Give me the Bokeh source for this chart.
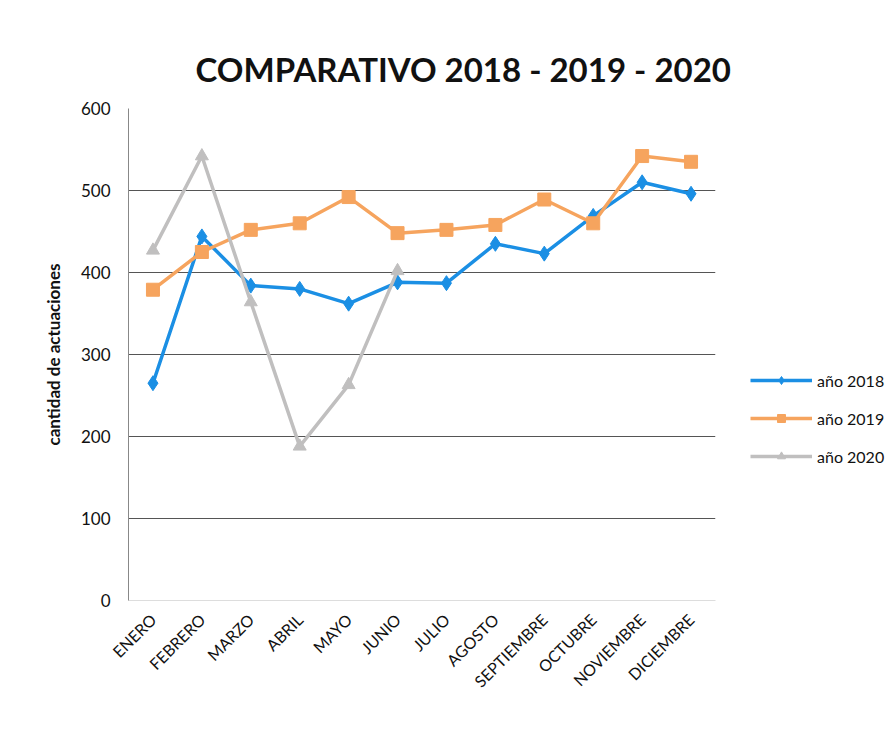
from bokeh.plotting import figure
from bokeh.models import Range1d, Legend, LegendItem, FixedTicker
from bokeh.embed import file_html
from bokeh.resources import INLINE
import math

meses = ["ENERO", "FEBRERO", "MARZO", "ABRIL", "MAYO", "JUNIO", "JULIO",
         "AGOSTO", "SEPTIEMBRE", "OCTUBRE", "NOVIEMBRE", "DICIEMBRE"]
anio_2018 = [265, 444, 384, 380, 362, 388, 387, 435, 423, 469, 510, 496]
anio_2019 = [379, 425, 452, 460, 492, 448, 452, 458, 489, 460, 542, 535]
meses_2020 = ["ENERO", "FEBRERO", "MARZO", "ABRIL", "MAYO", "JUNIO"]
anio_2020 = [427, 542, 364, 188, 263, 402]
y_ticks = [0, 100, 200, 300, 400, 500, 600]

FONT = "Lato"
BLUE = "#1b8fe4"
ORANGE = "#f6a45e"
GRAY = "#c0bfbf"

p = figure(x_range=meses, y_range=Range1d(0, 600),
           frame_width=587, frame_height=492,
           min_border_left=128, min_border_right=171,
           min_border_top=108, min_border_bottom=122,
           output_backend="svg", toolbar_location=None,
           title="COMPARATIVO 2018 - 2019 - 2020")

p.title.text_font = FONT
p.title.text_font_size = "33px"
p.title.text_font_style = "bold"
p.title.text_color = "#111111"
p.title.align = "left"
p.title.offset = 67
p.title.standoff = 40

p.outline_line_color = None
p.background_fill_color = "white"
p.border_fill_color = "white"

p.xgrid.grid_line_color = None
p.ygrid.grid_line_color = "#555555"
p.ygrid.grid_line_width = 1

p.yaxis.ticker = FixedTicker(ticks=y_ticks)
p.yaxis.axis_label = "cantidad de actuaciones"
p.yaxis.axis_label_text_font = FONT
p.yaxis.axis_label_text_font_size = "17px"
p.yaxis.axis_label_text_font_style = "bold"
p.yaxis.axis_label_text_color = "#111111"
p.yaxis.axis_label_standoff = 14
p.yaxis.major_label_text_font = FONT
p.yaxis.major_label_text_font_size = "17px"
p.yaxis.major_label_text_color = "#111111"
p.yaxis.major_label_standoff = 12
p.yaxis.axis_line_color = "#888888"
p.yaxis.major_tick_line_color = None
p.yaxis.minor_tick_line_color = None

p.xaxis.major_label_orientation = math.pi / 4
p.xaxis.major_label_text_font = FONT
p.xaxis.major_label_text_font_size = "16px"
p.xaxis.major_label_text_color = "#111111"
p.xaxis.major_label_standoff = 10
p.xaxis.axis_line_color = "#dddddd"
p.xaxis.major_tick_line_color = None

l1 = p.line(meses, anio_2018, line_color=BLUE, line_width=3.5)
m1 = p.scatter(meses, anio_2018, marker="diamond", size=15,
               fill_color=BLUE, line_color=BLUE)
l2 = p.line(meses, anio_2019, line_color=ORANGE, line_width=3.5)
m2 = p.scatter(meses, anio_2019, marker="square", size=13,
               fill_color=ORANGE, line_color=ORANGE)
l3 = p.line(meses_2020, anio_2020, line_color=GRAY, line_width=3.5)
m3 = p.scatter(meses_2020, anio_2020, marker="triangle", size=13,
               fill_color=GRAY, line_color=GRAY)

legend = Legend(items=[
    LegendItem(label="año 2018", renderers=[l1, m1]),
    LegendItem(label="año 2019", renderers=[l2, m2]),
    LegendItem(label="año 2020", renderers=[l3, m3]),
], location=(35, 134))
legend.margin = 0
legend.label_text_font = FONT
legend.label_text_font_size = "16px"
legend.label_text_color = "#111111"
legend.glyph_width = 62
legend.glyph_height = 20
legend.spacing = 18
legend.padding = 5
legend.label_standoff = 5
legend.border_line_color = None
legend.background_fill_alpha = 0
p.add_layout(legend, "right")

open("out.html", "w").write(file_html(p, INLINE))
